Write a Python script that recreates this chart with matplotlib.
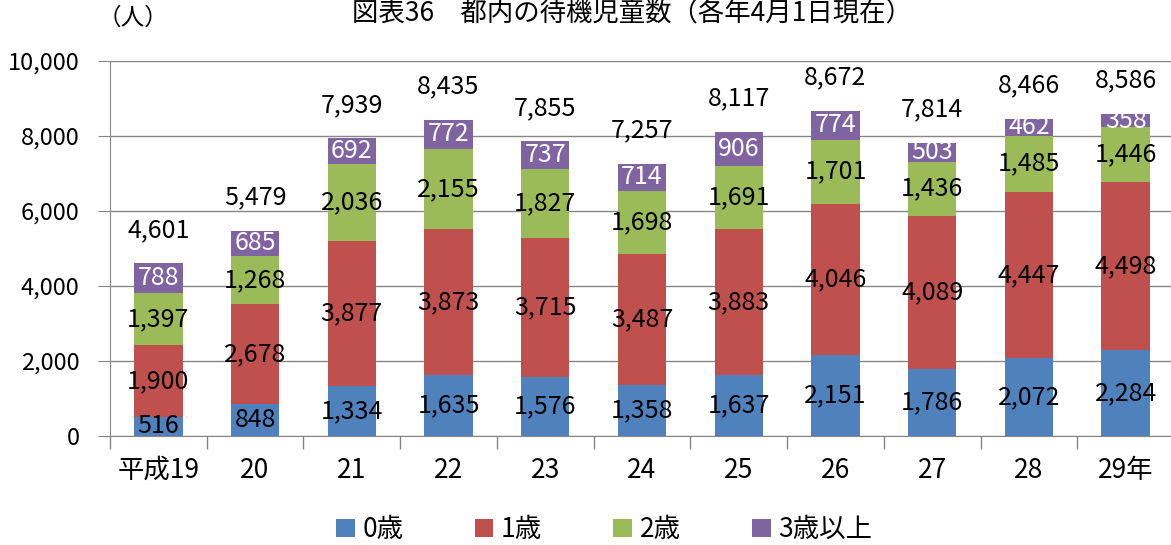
import numpy as np
import matplotlib.pyplot as plt
from matplotlib.patches import Patch
from matplotlib.ticker import FuncFormatter

plt.rcParams['font.family'] = ['Noto Sans CJK JP', 'DejaVu Sans']

years = ['平成19', '20', '21', '22', '23', '24', '25', '26', '27', '28', '29年']
age0 = [516, 848, 1334, 1635, 1576, 1358, 1637, 2151, 1786, 2072, 2284]
age1 = [1900, 2678, 3877, 3873, 3715, 3487, 3883, 4046, 4089, 4447, 4498]
age2 = [1397, 1268, 2036, 2155, 1827, 1698, 1691, 1701, 1436, 1485, 1446]
age3 = [788, 685, 692, 772, 737, 714, 906, 774, 503, 462, 358]
totals = [4601, 5479, 7939, 8435, 7855, 7257, 8117, 8672, 7814, 8466, 8586]
series_names = ['0歳', '1歳', '2歳', '3歳以上']
colors = ['#4f81bd', '#c0504d', '#9bbb59', '#8064a2']

fig = plt.figure(figsize=(11.71, 5.45), dpi=100)
ax = fig.add_axes([110 / 1171, 1 - 436 / 545, 1064 / 1171, 375 / 545])

x = np.arange(len(years))
bottom = np.zeros(len(years))
for vals, col, name in zip([age0, age1, age2, age3], colors, series_names):
	vals = np.array(vals)
	ax.bar(x, vals, 0.5, bottom=bottom, color=col, zorder=2)
	txt_col = 'white' if name == '3歳以上' else 'black'
	for xi, b, v in zip(x, bottom, vals):
		ax.text(xi, b + v / 2, f'{v:,}', ha='center', va='center', fontsize=18,
		        color=txt_col, zorder=3)
	bottom += vals

# totals above each stack
for xi, t in zip(x, totals):
	ax.annotate(f'{t:,}', (xi, t), xytext=(0, 24), textcoords='offset points',
	            ha='center', va='center', fontsize=18)

ax.set_xlim(-0.5, len(years) - 0.5)
ax.set_ylim(0, 10000)
ax.set_yticks(np.arange(0, 10001, 2000))
ax.yaxis.set_major_formatter(FuncFormatter(lambda v, p: f'{int(v):,}'))
ax.grid(axis='y', color='#868686', linewidth=1, zorder=0)
ax.set_axisbelow(True)

ax.set_xticks(x)
ax.set_xticklabels(years, fontsize=19)
ax.set_xticks(np.arange(-0.5, len(years), 1), minor=True)
ax.tick_params(axis='x', which='major', length=0, pad=15)
ax.tick_params(axis='x', which='minor', length=9, color='#868686', width=1)
ax.tick_params(axis='y', length=9, color='#868686', labelsize=17, pad=13)

for side in ['top', 'right']:
	ax.spines[side].set_visible(False)
for side in ['left', 'bottom']:
	ax.spines[side].set_color('#868686')

fig.text(0.083, 0.966, '（人）', ha='left', va='center', fontsize=17)
fig.text(0.54, 1.0, '図表36　都内の待機児童数（各年4月1日現在）', ha='center', va='top',
         fontsize=19)

handles = [Patch(facecolor=c) for c in colors]
fig.legend(handles, series_names, loc='center', bbox_to_anchor=(0.516, 0.028), ncol=4,
           frameon=False, fontsize=19, handlelength=0.7, handleheight=0.7,
           columnspacing=2.7, handletextpad=0.3)

fig.savefig('out.png', dpi=100)
